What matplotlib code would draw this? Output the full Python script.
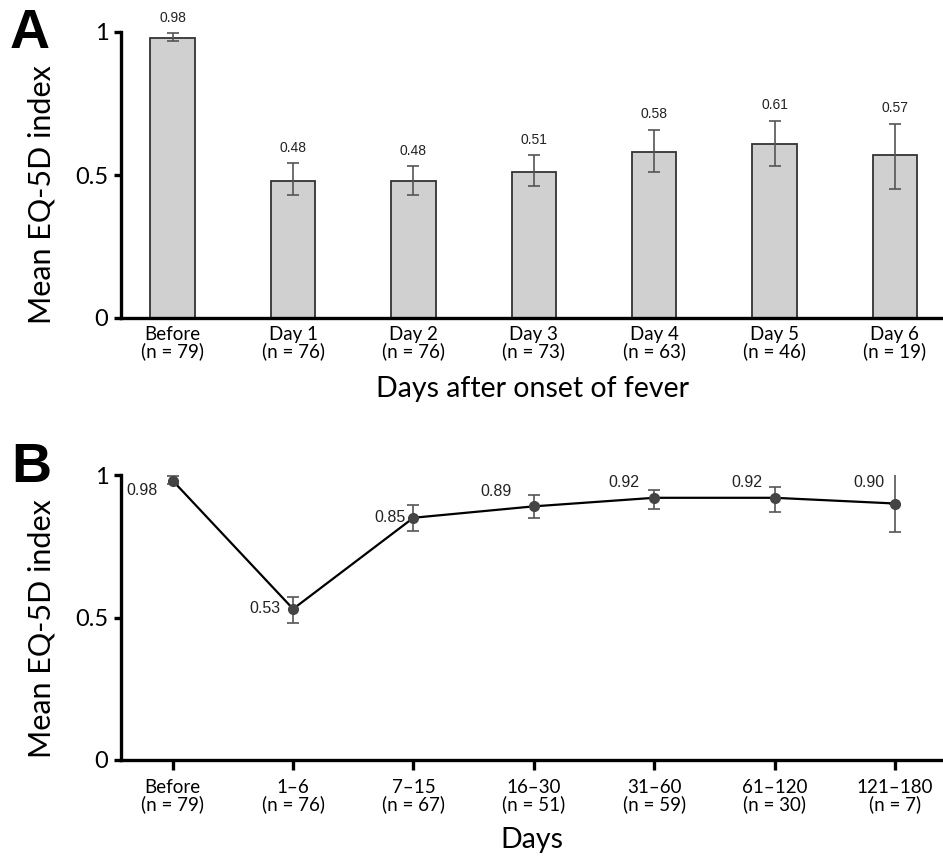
import matplotlib
matplotlib.use("Agg")
import matplotlib.pyplot as plt
import numpy as np

# Panel A data
cats_a = ["Before", "Day 1", "Day 2", "Day 3", "Day 4", "Day 5", "Day 6"]
n_a = [79, 76, 76, 73, 63, 46, 19]
mean_a = [0.98, 0.48, 0.48, 0.51, 0.58, 0.61, 0.57]
low_a = [0.970, 0.430, 0.430, 0.460, 0.512, 0.530, 0.451]
high_a = [0.997, 0.541, 0.531, 0.570, 0.658, 0.690, 0.679]

# Panel B data
cats_b = ["Before", "1\u20136", "7\u201315", "16\u201330", "31\u201360", "61\u2013120", "121\u2013180"]
n_b = [79, 76, 67, 51, 59, 30, 7]
mean_b = [0.98, 0.53, 0.85, 0.89, 0.92, 0.92, 0.90]
low_b = [0.970, 0.482, 0.804, 0.849, 0.880, 0.870, 0.800]
high_b = [0.998, 0.571, 0.894, 0.931, 0.947, 0.959, 1.000]
labels_b = ["0.98", "0.53", "0.85", "0.89", "0.92", "0.92", "0.90"]

TICKFONT = "Lato"
VALFONT = "Liberation Sans"

fig = plt.figure(figsize=(9.43, 8.57), dpi=100)
axA = fig.add_axes([121/943, 1-318/857, 1-121/943, (318-32)/857])
axB = fig.add_axes([121/943, 1-760/857, 1-121/943, (760-475)/857])

def style(ax, xticks_visible, label_y):
    for s in ["top", "right"]:
        ax.spines[s].set_visible(False)
    for s in ["left", "bottom"]:
        ax.spines[s].set_linewidth(2.4)
        ax.spines[s].set_color("black")
    ax.set_ylim(0, 1)
    ax.set_xlim(-0.43, 6.4)
    ax.set_yticks([0, 0.5, 1])
    ax.set_yticklabels(["0", "0.5", "1"], fontfamily=TICKFONT, fontsize=17)
    ax.tick_params(axis="y", length=5, width=2.4, pad=4)
    if xticks_visible:
        ax.tick_params(axis="x", length=7, width=2.4, pad=7)
    else:
        ax.tick_params(axis="x", length=0, pad=6)
    ax.set_ylabel("Mean EQ-5D index", fontfamily=TICKFONT, fontsize=22)
    ax.yaxis.set_label_coords(-0.080, label_y)

# Panel A
x = np.arange(len(cats_a))
mean_a_arr = np.array(mean_a)
err_a = np.array([mean_a_arr - np.array(low_a), np.array(high_a) - mean_a_arr])
axA.bar(x, mean_a, width=0.37, color="#d0d0d0", edgecolor="#333333", linewidth=1.3, zorder=2)
axA.errorbar(x, mean_a, yerr=err_a, fmt="none", ecolor="#555555", elinewidth=1.2,
             capsize=4, capthick=1.2, zorder=3)
for xi, hi, m in zip(x, high_a, mean_a):
    axA.annotate(f"{m:.2f}", (xi, hi), xytext=(0, 6), textcoords="offset points",
                 ha="center", va="bottom", fontsize=10, fontfamily=VALFONT,
                 color="#222222", annotation_clip=False)
style(axA, False, 0.43)
axA.set_xticks(x)
axA.set_xticklabels([f"{c}\n(n = {n})" for c, n in zip(cats_a, n_a)],
                    fontfamily=TICKFONT, fontsize=13.5, linespacing=0.95)
axA.set_xlabel("Days after onset of fever", fontfamily=TICKFONT, fontsize=20.5, labelpad=11)

# Panel B
xb = np.arange(len(cats_b))
mean_b_arr = np.array(mean_b)
lo = mean_b_arr - np.array(low_b)
hi = np.array(high_b) - mean_b_arr
axB.plot(xb, mean_b, color="black", linewidth=1.6, zorder=3)
# error bars (last upper whisker without cap)
axB.errorbar(xb[:-1], mean_b[:-1], yerr=[lo[:-1], hi[:-1]], fmt="none", ecolor="#555555",
             elinewidth=1.2, capsize=4, capthick=1.2, zorder=2)
axB.errorbar(xb[-1:], mean_b[-1:], yerr=[lo[-1:], [0]], fmt="none", ecolor="#555555",
             elinewidth=1.2, capsize=4, capthick=1.2, zorder=2)
axB.errorbar(xb[-1:], mean_b[-1:], yerr=[[0], hi[-1:]], fmt="none", ecolor="#555555",
             elinewidth=1.2, capsize=0, zorder=2)
axB.plot(xb, mean_b, "o", color="#444444", markersize=7, zorder=4, clip_on=False)
offsets = [(-22, -7), (-20, 0), (-17, 0), (-27, 11), (-22, 11), (-20, 11), (-19, 15)]
for xi, m, lab, off in zip(xb, mean_b, labels_b, offsets):
    axB.annotate(lab, (xi, m), xytext=off, textcoords="offset points",
                 ha="center", va="center", fontsize=11.5, fontfamily=VALFONT,
                 color="#222222", annotation_clip=False)
style(axB, True, 0.46)
axB.set_xticks(xb)
axB.set_xticklabels([f"{c}\n(n = {n})" for c, n in zip(cats_b, n_b)],
                    fontfamily=TICKFONT, fontsize=13.5, linespacing=0.95)
axB.set_xlabel("Days", fontfamily=TICKFONT, fontsize=20.5, labelpad=10)

fig.text(10/943, 1-48/857, "A", fontsize=40, fontweight="bold", fontfamily="Liberation Sans")
fig.text(11/943, 1-482/857, "B", fontsize=40, fontweight="bold", fontfamily="Liberation Sans")

fig.savefig("out.png", dpi=100)
